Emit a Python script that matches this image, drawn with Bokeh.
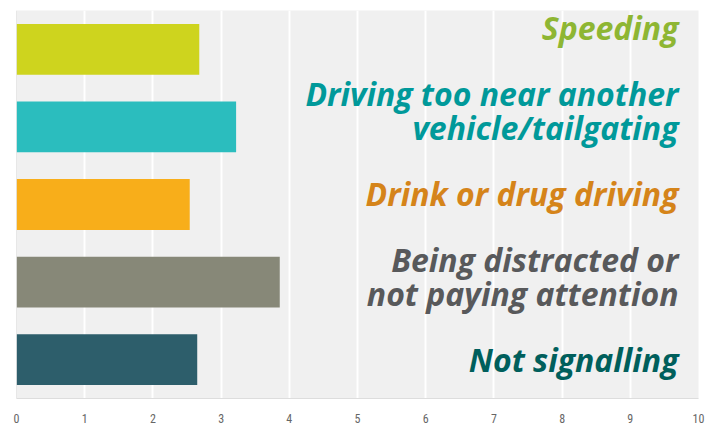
from bokeh.plotting import figure
from bokeh.models import ColumnDataSource, Range1d, FixedTicker, Span
from bokeh.core.properties import value
from bokeh.embed import file_html
from bokeh.resources import INLINE

# Data (bottom to top)
labels = ["Not signalling",
          "Being distracted or\nnot paying attention",
          "Drink or drug driving",
          "Driving too near another\nvehicle/tailgating",
          "Speeding"]
values = [2.65, 3.86, 2.54, 3.22, 2.68]
bar_colors = ["#2D5E6B", "#878878", "#F8AE1A", "#2BBDBE", "#CED41E"]
text_colors = ["#005F5C", "#58595B", "#D5841A", "#00999A", "#8EB633"]
x_ticks = list(range(0, 11))

pos = [i + 0.5 for i in range(len(labels))]
x_max = x_ticks[-1]

src = ColumnDataSource(dict(y=pos, v=values, bc=bar_colors, tc=text_colors,
                            lab=labels, xr=[x_max] * len(labels)))

p = figure(width=706, height=425, output_backend="svg", toolbar_location=None,
           x_range=Range1d(0, x_max), y_range=Range1d(0, len(labels)),
           min_border_left=16, min_border_right=8, min_border_top=10,
           min_border_bottom=26)
p.extra_y_ranges = {"lab": Range1d(0.0315, 4.704)}

p.background_fill_color = "#F0F0F0"
p.border_fill_color = "white"
p.outline_line_color = None

p.hbar(y="y", left=0, right="v", height=0.655, fill_color="bc",
       line_color=None, source=src)

p.text(x="xr", y="y", text="lab", source=src, y_range_name="lab",
       text_color="tc", text_align="right", text_baseline="middle",
       x_offset=-20, text_font=value("Open Sans"),
       text_font_style="bold italic", text_font_size="32px",
       text_line_height=0.8)

p.xgrid.ticker = FixedTicker(ticks=x_ticks)
p.xgrid.grid_line_color = "white"
p.xgrid.grid_line_width = 2
p.ygrid.grid_line_color = None

p.xaxis.ticker = FixedTicker(ticks=x_ticks)
p.xaxis.major_tick_line_color = None
p.xaxis.minor_tick_line_color = None
p.xaxis.axis_line_color = "#DDDDDD"
p.xaxis.major_label_text_font = "Roboto Condensed"
p.xaxis.major_label_text_font_size = "12px"
p.xaxis.major_label_text_color = "#666666"
p.xaxis.major_label_standoff = 9

p.yaxis.visible = False
p.add_layout(Span(location=0, dimension="height", line_color="#D8D8D8",
                  line_width=1))

open("out.html", "w").write(file_html(p, INLINE))
